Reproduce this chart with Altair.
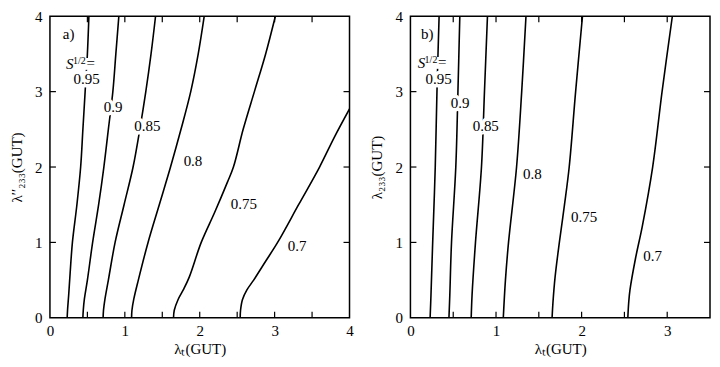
import altair as alt
import pandas as pd

# ---------------- data: panel a ----------------
a_levels = ["0.95", "0.9", "0.85", "0.8", "0.75", "0.7"]
a95_y = [0, 0.1, 0.3, 0.6, 1.0, 1.5, 2.0, 2.5, 3.0, 3.5, 4.0]
a95_x = [0.23, 0.235, 0.25, 0.27, 0.30, 0.36, 0.41, 0.44, 0.47, 0.50, 0.52]
a90_y = [0, 0.1, 0.25, 0.5, 1.0, 1.5, 2.0, 2.5, 3.0, 3.5, 4.0]
a90_x = [0.44, 0.445, 0.46, 0.50, 0.57, 0.65, 0.72, 0.78, 0.84, 0.88, 0.92]
a85_y = [0, 0.1, 0.25, 0.5, 1.0, 1.5, 2.0, 2.5, 3.0, 3.5, 4.0]
a85_x = [0.71, 0.715, 0.735, 0.78, 0.87, 0.99, 1.11, 1.20, 1.28, 1.35, 1.41]
a80_y = [0, 0.1, 0.25, 0.5, 1.0, 1.5, 2.0, 2.5, 3.0, 3.5, 4.0]
a80_x = [1.09, 1.095, 1.12, 1.18, 1.31, 1.46, 1.61, 1.75, 1.88, 1.98, 2.06]
a75_y = [0, 0.1, 0.24, 0.37, 0.54, 1.0, 1.4, 1.8, 2.0, 2.5, 3.0, 3.5, 4.0]
a75_x = [1.65, 1.66, 1.71, 1.78, 1.86, 2.02, 2.20, 2.37, 2.45, 2.58, 2.73, 2.88, 3.01]
a70_y = [0, 0.1, 0.24, 0.37, 0.5, 0.75, 1.0, 1.5, 2.0, 2.4, 2.77]
a70_x = [2.54, 2.545, 2.57, 2.63, 2.72, 2.88, 3.04, 3.32, 3.60, 3.80, 4.0]

a_label_text = ["0.95", "0.9", "0.85", "0.8", "0.75", "0.7"]
a_label_x = [0.49, 0.845, 1.30, 1.91, 2.59, 3.30]
a_label_y = [3.17, 2.80, 2.55, 2.08, 1.51, 0.95]

# ---------------- data: panel b ----------------
b95_y = [0, 0.3, 1, 2, 3, 4]
b95_x = [0.23, 0.24, 0.26, 0.29, 0.31, 0.335]
b90_y = [0, 0.3, 1, 2, 3, 4]
b90_x = [0.45, 0.46, 0.48, 0.53, 0.555, 0.577]
b85_y = [0, 0.3, 1, 2, 3, 4]
b85_x = [0.71, 0.72, 0.76, 0.83, 0.865, 0.90]
b80_y = [0, 0.5, 1, 2, 3, 4]
b80_x = [1.085, 1.11, 1.146, 1.24, 1.30, 1.35]
b75_y = [0, 0.2, 0.54, 1, 1.5, 2, 3, 4]
b75_x = [1.655, 1.665, 1.69, 1.74, 1.80, 1.855, 1.93, 2.01]
b70_y = [0, 0.2, 0.37, 0.79, 1.22, 2.0, 3, 4]
b70_x = [2.54, 2.55, 2.565, 2.63, 2.71, 2.83, 2.94, 3.06]

b_label_text = ["0.95", "0.9", "0.85", "0.8", "0.75", "0.7"]
b_label_x = [0.33, 0.58, 0.88, 1.425, 2.03, 2.83]
b_label_y = [3.17, 2.85, 2.55, 1.91, 1.335, 0.82]

x_ticks_a = [0.5, 1, 1.5, 2, 2.5, 3, 3.5]
x_ticks_b = [0.5, 1, 1.5, 2, 2.5, 3]
y_ticks = [1, 2, 3]

FONT = "Liberation Serif, Times New Roman, serif"
W, H = 300, 302


def curves_df(levels, xs, ys):
    rows = []
    for lev, xx, yy in zip(levels, xs, ys):
        for i, (a, b) in enumerate(zip(xx, yy)):
            rows.append({"level": lev, "i": i, "x": a, "y": b})
    return pd.DataFrame(rows)


def panel(df, lab_text, lab_x, lab_y, xmax, xvals, xticks, ytitle, tag, tag_xy, s_xy):
    xs = alt.Scale(domain=[0, xmax], nice=False, zero=False)
    ys = alt.Scale(domain=[0, 4], nice=False, zero=False)
    xax = alt.Axis(values=xvals, format="d", title="λₜ(GUT)",
                   labelPadding=6, titlePadding=3)
    yax = alt.Axis(values=[0, 1, 2, 3, 4], format="d", title=ytitle,
                   labelPadding=8, titlePadding=10)

    def X(f):
        return alt.X(f, scale=xs, axis=xax)

    def Y(f):
        return alt.Y(f, scale=ys, axis=yax)

    lines = alt.Chart(df).mark_line(color="black", strokeWidth=1.6,
                                    interpolate="catmull-rom", clip=True).encode(
        x=X("x:Q"), y=Y("y:Q"), detail="level:N", order="i:Q",
    )
    lab = pd.DataFrame({"x": lab_x, "y": lab_y, "text": lab_text})
    enc = dict(x=X("x:Q"), y=Y("y:Q"), text="text:N")
    halo = alt.Chart(lab).mark_text(font=FONT, fontSize=15, color="white",
                                    stroke="white", strokeWidth=7,
                                    strokeJoin="round").encode(**enc)
    texts = alt.Chart(lab).mark_text(font=FONT, fontSize=15,
                                     color="black").encode(**enc)

    tg = pd.DataFrame({"x": [tag_xy[0]], "y": [tag_xy[1]], "text": [tag]})
    tag_m = alt.Chart(tg).mark_text(font=FONT, fontSize=15,
                                    color="black").encode(**enc)

    sd = pd.DataFrame({"x": [s_xy[0]], "y": [s_xy[1]]})
    senc = dict(x=X("x:Q"), y=Y("y:Q"))
    s_halo = alt.Chart(sd).mark_text(font=FONT, fontSize=15, color="white",
                                     stroke="white", strokeWidth=8, text="S  =  ",
                                     align="center", baseline="alphabetic").encode(**senc)
    s1 = alt.Chart(sd).mark_text(font=FONT, fontSize=15, fontStyle="italic",
                                 text="S", align="left", baseline="alphabetic",
                                 dx=-15.5, color="black").encode(**senc)
    s2 = alt.Chart(sd).mark_text(font=FONT, fontSize=10, text="1/2",
                                 align="left", baseline="alphabetic",
                                 dx=-8.5, dy=-5, color="black").encode(**senc)
    s3 = alt.Chart(sd).mark_text(font=FONT, fontSize=15, text="=",
                                 align="left", baseline="alphabetic",
                                 dx=5, dy=-1, color="black").encode(**senc)

    xt = pd.DataFrame({"t": xticks})
    yt = pd.DataFrame({"t": y_ticks})
    rule = dict(color="black", strokeWidth=1.2)
    t_bot = alt.Chart(xt).mark_rule(**rule).encode(x=X("t:Q"), y=alt.value(H), y2=alt.value(H - 6))
    t_top = alt.Chart(xt).mark_rule(**rule).encode(x=X("t:Q"), y=alt.value(0), y2=alt.value(6))
    t_l = alt.Chart(yt).mark_rule(**rule).encode(y=Y("t:Q"), x=alt.value(0), x2=alt.value(6))
    t_r = alt.Chart(yt).mark_rule(**rule).encode(y=Y("t:Q"), x=alt.value(W), x2=alt.value(W - 6))

    return alt.layer(lines, halo, texts, tag_m, s_halo, s1, s2, s3,
                     t_bot, t_top, t_l, t_r).properties(width=W, height=H)


dfa = curves_df(a_levels, [a95_x, a90_x, a85_x, a80_x, a75_x, a70_x],
                [a95_y, a90_y, a85_y, a80_y, a75_y, a70_y])
dfb = curves_df(a_levels, [b95_x, b90_x, b85_x, b80_x, b75_x, b70_x],
                [b95_y, b90_y, b85_y, b80_y, b75_y, b70_y])

pa = panel(dfa, a_label_text, a_label_x, a_label_y, 4, [0, 1, 2, 3, 4], x_ticks_a,
           "λ′′₂₃₃(GUT)", "a)", (0.25, 3.77), (0.42, 3.30))
pb = panel(dfb, b_label_text, b_label_x, b_label_y, 3.5, [0, 1, 2, 3], x_ticks_b,
           "λ₂₃₃(GUT)", "b)", (0.196, 3.77), (0.265, 3.32))

chart = alt.hconcat(pa, pb, spacing=14).properties(padding=0).configure_view(
    stroke="black", strokeWidth=1.5
).configure_axis(
    labelFont=FONT, labelFontSize=15, labelColor="black",
    titleFont=FONT, titleFontSize=15, titleFontWeight="normal", titleColor="black",
    ticks=False, domain=False, grid=False,
    labelFlush=False,
)

chart.save("out.html", embed_options={"renderer": "svg", "actions": False})
